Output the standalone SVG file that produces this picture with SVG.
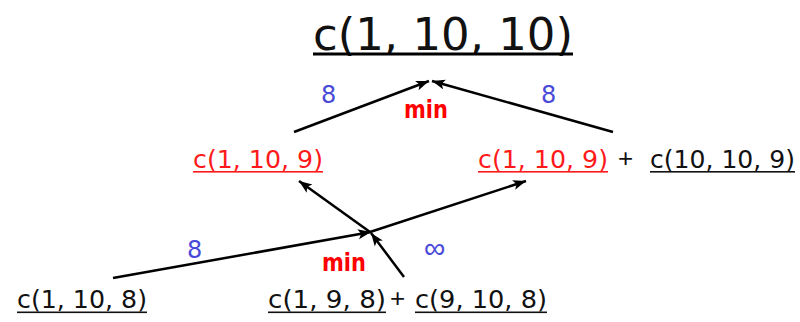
<svg xmlns="http://www.w3.org/2000/svg" width="800" height="322" viewBox="0 0 800 322">
<style>
.t{font-family:"DejaVu Sans","Liberation Sans",sans-serif;}
.blk{fill:#111;}
.red{fill:#ff1a1a;}
.plus{font-family:"Liberation Sans",sans-serif;font-size:26px;fill:#111;}
.lbl{fill:#4a4ad8;font-family:"DejaVu Sans","Liberation Sans",sans-serif;font-size:24px;}
.inf{fill:#4a4ad8;font-family:"Liberation Sans",sans-serif;font-size:30px;}
.min{fill:#ff0000;font-family:"DejaVu Sans","Liberation Sans",sans-serif;font-size:24px;font-weight:bold;}
.edge{stroke:#000;stroke-width:2.5;fill:none;marker-end:url(#ah);}
</style>
<defs>
<marker id="ah" markerUnits="userSpaceOnUse" markerWidth="14" markerHeight="12" refX="13" refY="5" orient="auto">
<path d="M0,0 L13,5 L0,10 L3,5 z" fill="#000"/>
</marker>
</defs>
<rect width="800" height="322" fill="#fff"/>
<g id="root">
<text class="t blk" x="313" y="50" font-size="44" textLength="260" lengthAdjust="spacingAndGlyphs">c(1, 10, 10)</text>
<rect x="313" y="52.5" width="260" height="3" fill="#000"/>
</g>
<g id="mid-left">
<text class="t red" x="193" y="168" font-size="24" textLength="130" lengthAdjust="spacingAndGlyphs">c(1, 10, 9)</text>
<rect x="193" y="171" width="130" height="1.6" fill="#ff1a1a"/>
</g>
<g id="mid-right">
<text class="t red" x="478" y="168" font-size="24" textLength="130" lengthAdjust="spacingAndGlyphs">c(1, 10, 9)</text>
<rect x="478" y="171" width="130" height="1.6" fill="#ff1a1a"/>
<text class="plus" x="618" y="167">+</text>
<text class="t blk" x="650" y="168" font-size="24" textLength="145" lengthAdjust="spacingAndGlyphs">c(10, 10, 9)</text>
<rect x="650" y="171" width="145" height="1.6" fill="#111"/>
</g>
<g id="bottom-left">
<text class="t blk" x="17" y="308" font-size="24" textLength="130" lengthAdjust="spacingAndGlyphs">c(1, 10, 8)</text>
<rect x="17" y="311.5" width="130" height="1.6" fill="#111"/>
</g>
<g id="bottom-right">
<text class="t blk" x="268" y="308" font-size="24" textLength="118" lengthAdjust="spacingAndGlyphs">c(1, 9, 8)</text>
<rect x="268" y="311.5" width="118" height="1.6" fill="#111"/>
<text class="plus" x="390" y="307">+</text>
<text class="t blk" x="415" y="308" font-size="24" textLength="132" lengthAdjust="spacingAndGlyphs">c(9, 10, 8)</text>
<rect x="415" y="311.5" width="132" height="1.6" fill="#111"/>
</g>
<g id="connectors">
<line class="edge" x1="294" y1="132" x2="429" y2="81"/>
<line class="edge" x1="613" y1="132" x2="432" y2="81"/>
<line class="edge" x1="113" y1="278" x2="371" y2="232"/>
<line class="edge" x1="404" y1="277" x2="371" y2="233"/>
<line class="edge" x1="370" y1="232" x2="299" y2="181"/>
<line class="edge" x1="370" y1="232" x2="526" y2="181"/>
<text class="lbl" x="321" y="103">8</text>
<text class="lbl" x="541" y="103">8</text>
<text class="lbl" x="187" y="258">8</text>
<text class="inf" x="424" y="258">∞</text>
<text class="min" x="404" y="118" textLength="44" lengthAdjust="spacingAndGlyphs">min</text>
<text class="min" x="322" y="271" textLength="44" lengthAdjust="spacingAndGlyphs">min</text>
</g>
</svg>
